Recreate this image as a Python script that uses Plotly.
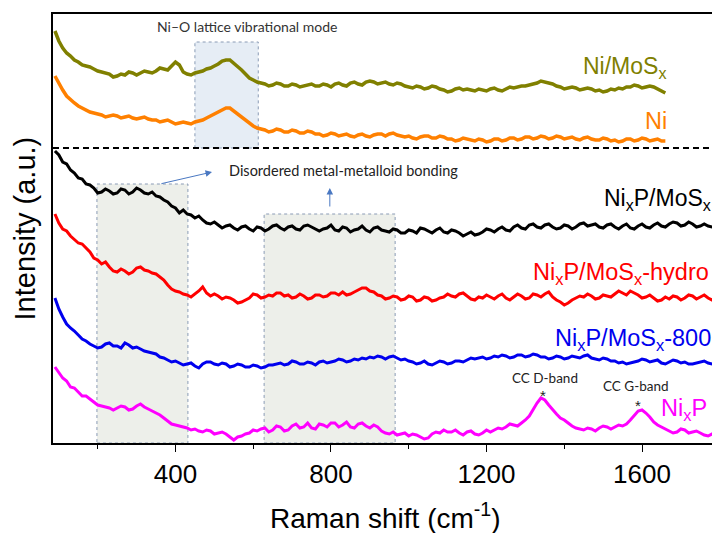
import plotly.graph_objects as go

# ---------------- data ----------------
shift_fine = list(range(90, 1791, 10))             # 90 ... 1790 cm-1 (lower four spectra)
shift_top = list(range(90, 1661, 10))              # top two spectra end ~1660

ni_mos = [412, 402, 395, 390, 387, 383, 381, 378, 377, 376,
          374, 372, 371, 370, 369, 366, 367, 369, 368, 371,
          370, 368, 370, 372, 371, 370, 372, 375, 374, 373,
          377, 381, 378, 371, 369, 368, 370, 371, 372, 374,
          375, 377, 379, 382, 383, 383, 380, 377, 373, 369,
          365, 363, 361, 360, 359, 357, 358, 360, 359, 357,
          357, 359, 358, 356, 357, 358, 359, 357, 357, 359,
          358, 356, 359, 360, 358, 357, 360, 361, 359, 358,
          361, 362, 361, 359, 360, 361, 359, 358, 360, 359,
          357, 356, 355, 357, 356, 354, 355, 357, 356, 354,
          353, 351, 352, 354, 355, 353, 354, 353, 352, 354,
          353, 352, 354, 355, 353, 352, 354, 356, 355, 356,
          357, 357, 358, 359, 360, 362, 361, 360, 359, 357,
          356, 354, 355, 356, 355, 353, 354, 355, 354, 352,
          353, 351, 352, 354, 353, 355, 354, 356, 356, 358,
          357, 355, 356, 357, 356, 354, 352, 350]

ni = [367, 359, 353, 347, 343, 340, 337, 335, 333, 331,
      330, 329, 328, 326, 327, 328, 327, 325, 326, 327,
      325, 324, 325, 326, 324, 323, 323, 321, 322, 323,
      321, 319, 320, 321, 320, 319, 321, 322, 323, 325,
      327, 329, 331, 333, 335, 335, 332, 329, 326, 322,
      319, 317, 315, 314, 313, 311, 312, 314, 313, 311,
      311, 313, 312, 310, 310, 312, 311, 309, 309, 307,
      308, 310, 309, 307, 308, 309, 307, 306, 308, 309,
      307, 306, 308, 309, 309, 307, 309, 310, 308, 307,
      306, 307, 305, 304, 306, 307, 307, 305, 305, 307,
      306, 304, 304, 302, 303, 305, 304, 303, 302, 304,
      303, 301, 302, 304, 304, 302, 303, 305, 305, 303,
      304, 306, 306, 304, 305, 307, 306, 304, 305, 307,
      306, 304, 305, 306, 304, 303, 305, 306, 304, 303,
      303, 305, 304, 302, 303, 301, 302, 304, 304, 302,
      303, 305, 304, 302, 303, 304, 302, 302]

nip_mos = [292, 288, 281, 279, 273, 270, 265, 264, 259, 258,
           255, 250, 251, 254, 252, 249, 250, 254, 253, 249,
           251, 255, 253, 250, 249, 251, 247, 246, 243, 241,
           237, 235, 230, 233, 229, 228, 225, 227, 223, 220,
           219, 221, 218, 215, 217, 218, 215, 213, 216, 217,
           214, 212, 216, 215, 212, 214, 217, 218, 215, 213,
           216, 217, 214, 213, 217, 218, 216, 214, 212, 214,
           215, 218, 213, 212, 216, 215, 211, 213, 214, 217,
           213, 211, 215, 216, 213, 212, 211, 214, 213, 210,
           210, 213, 212, 210, 215, 214, 212, 210, 213, 215,
           211, 210, 213, 212, 210, 207, 209, 211, 208, 209,
           211, 214, 213, 211, 214, 216, 213, 212, 216, 218,
           215, 214, 218, 219, 216, 215, 218, 219, 216, 214,
           215, 218, 217, 214, 216, 219, 220, 217, 218, 219,
           216, 215, 218, 219, 216, 214, 217, 219, 215, 214,
           217, 219, 216, 215, 218, 220, 217, 216, 219, 221,
           220, 217, 218, 221, 219, 216, 217, 219, 217, 216,
           218]

nip_mos_hydro = [229, 220, 214, 212, 207, 203, 200, 199, 195, 191,
                 185, 183, 179, 181, 176, 172, 171, 174, 172, 169,
                 171, 175, 176, 173, 172, 170, 169, 166, 163, 158,
                 154, 152, 151, 149, 148, 146, 149, 152, 156, 150,
                 147, 149, 147, 144, 146, 145, 143, 140, 141, 143,
                 145, 149, 148, 145, 146, 148, 147, 150, 150, 147,
                 148, 145, 146, 149, 147, 144, 145, 148, 148, 146,
                 147, 150, 150, 148, 151, 148, 149, 151, 153, 155,
                 155, 152, 151, 148, 147, 144, 145, 147, 146, 143,
                 144, 147, 146, 142, 143, 146, 145, 142, 143, 145,
                 146, 149, 147, 146, 149, 150, 147, 144, 143, 146,
                 145, 148, 146, 144, 147, 149, 145, 143, 146, 149,
                 147, 144, 145, 149, 148, 146, 149, 151, 146, 143,
                 141, 138, 140, 143, 145, 147, 146, 149, 147, 144,
                 145, 148, 147, 146, 149, 152, 150, 148, 152, 150,
                 148, 145, 146, 148, 145, 142, 143, 146, 144, 147,
                 146, 143, 145, 148, 147, 144, 146, 148, 145, 143,
                 146]

nip_mos_800 = [145, 134, 126, 119, 115, 112, 108, 104, 102, 99,
               97, 95, 96, 99, 100, 97, 97, 95, 100, 98,
               95, 96, 94, 92, 91, 90, 89, 86, 85, 83,
               81, 82, 80, 78, 79, 80, 77, 75, 79, 81,
               81, 79, 78, 80, 79, 76, 77, 79, 78, 76,
               76, 78, 77, 75, 76, 78, 78, 79, 80, 78,
               79, 82, 81, 79, 79, 81, 80, 78, 81, 82,
               80, 81, 82, 84, 83, 81, 82, 84, 83, 85,
               84, 86, 85, 87, 86, 84, 86, 87, 85, 83,
               84, 82, 81, 79, 80, 82, 79, 78, 80, 82,
               81, 79, 80, 82, 82, 81, 83, 85, 84, 85,
               86, 84, 85, 87, 86, 88, 87, 85, 86, 88,
               88, 86, 87, 89, 88, 86, 86, 84, 85, 87,
               86, 84, 85, 87, 86, 85, 87, 88, 85, 84,
               83, 85, 84, 82, 82, 80, 81, 79, 80, 81,
               82, 84, 83, 81, 82, 83, 80, 79, 81, 83,
               82, 80, 81, 79, 79, 80, 81, 82, 80, 79,
               81]

nip = [76, 70, 65, 62, 56, 55, 51, 47, 47, 44,
       41, 38, 37, 36, 35, 33, 35, 37, 36, 33,
       34, 37, 39, 36, 34, 32, 30, 28, 25, 22,
       19, 18, 17, 16, 15, 13, 14, 12, 11, 13,
       12, 9, 10, 11, 9, 6, 3, 6, 7, 9,
       10, 13, 12, 14, 15, 11, 13, 17, 16, 12,
       13, 17, 19, 15, 16, 20, 15, 14, 19, 18,
       16, 20, 20, 16, 18, 21, 16, 15, 19, 20,
       17, 15, 18, 16, 12, 10, 9, 11, 8, 9,
       10, 7, 9, 8, 6, 4, 5, 9, 11, 10,
       13, 11, 11, 13, 10, 8, 11, 12, 9, 8,
       10, 13, 11, 13, 15, 14, 16, 19, 18, 17,
       20, 23, 27, 34, 40, 45, 43, 38, 33, 29,
       25, 23, 20, 17, 15, 14, 13, 15, 14, 12,
       15, 17, 16, 14, 16, 18, 17, 19, 23, 27,
       32, 33, 30, 26, 21, 18, 16, 14, 12, 10,
       11, 14, 13, 10, 11, 12, 10, 8, 7, 9,
       7]

x_ticks = [400, 800, 1200, 1600]

# ---------------- figure ----------------
ARIAL = "Liberation Sans, Arial, sans-serif"
CALIBRI = "Lato, Noto Sans, sans-serif"

fig = go.Figure()

series = [
    (shift_top, ni_mos, "#808000", 3.5),
    (shift_top, ni, "#ff8000", 3.5),
    (shift_fine, nip_mos, "#000000", 3),
    (shift_fine, nip_mos_hydro, "#ff0000", 3),
    (shift_fine, nip_mos_800, "#0000ee", 3),
    (shift_fine, nip, "#ff00ff", 3),
]
for xs, ys, col, w in series:
    fig.add_trace(go.Scatter(x=xs, y=ys, mode="lines",
                             line=dict(color=col, width=w),
                             showlegend=False, hoverinfo="skip"))

# shaded regions
box_line = dict(color="#8a9bb5", width=1, dash="dot")
fig.add_shape(type="rect", xref="x", yref="y", x0=450, x1=613, y0=295, y1=401,
              fillcolor="#e6edf5", line=box_line, layer="below")
fig.add_shape(type="rect", xref="x", yref="y", x0=198, x1=432, y0=0, y1=259,
              fillcolor="#edefea", line=box_line, layer="below")
fig.add_shape(type="rect", xref="x", yref="y", x0=628, x1=965, y0=0, y1=229,
              fillcolor="#edefea", line=box_line, layer="below")
# dashed separator
fig.add_shape(type="line", xref="paper", yref="y", x0=0, x1=1, y0=295, y1=295,
              line=dict(color="#000000", width=1.8, dash="6px,4px"))

# text annotations
fig.add_annotation(x=585, y=417, xref="x", yref="y", text="Ni–O lattice vibrational mode",
                   showarrow=False, font=dict(family=CALIBRI, size=14, color="#333333"))
fig.add_annotation(x=533, y=273, xref="x", yref="y", xanchor="left",
                   text="Disordered metal-metalloid bonding",
                   showarrow=False, font=dict(family=CALIBRI, size=14.5, color="#222222"))
# arrows
fig.add_annotation(x=494, y=271, ax=360, ay=259, xref="x", yref="y", axref="x", ayref="y",
                   text="", showarrow=True, arrowhead=2, arrowsize=1.3, arrowwidth=1,
                   arrowcolor="#4a78c2")
fig.add_annotation(x=797, y=255, ax=797, ay=235, xref="x", yref="y", axref="x", ayref="y",
                   text="", showarrow=True, arrowhead=2, arrowsize=1.3, arrowwidth=1,
                   arrowcolor="#4a78c2")
fig.add_annotation(x=1350, y=65, xref="x", yref="y", text="CC D-band", showarrow=False,
                   font=dict(family=CALIBRI, size=13.5, color="#222222"))
fig.add_annotation(x=1345, y=48, xref="x", yref="y", text="*", showarrow=False,
                   font=dict(family=ARIAL, size=15, color="#222222"))
fig.add_annotation(x=1584, y=57, xref="x", yref="y", text="CC G-band", showarrow=False,
                   font=dict(family=CALIBRI, size=13.5, color="#222222"))
fig.add_annotation(x=1590, y=38, xref="x", yref="y", text="*", showarrow=False,
                   font=dict(family=ARIAL, size=15, color="#222222"))

# series labels (the reference crops the longer ones at the right edge)
labels = [
    (1444, 376, "Ni/MoS<sub>x</sub>", "#808000", 23),
    (1603, 322, "Ni", "#ff8000", 23.5),
    (1497, 244, "Ni<sub>x</sub>P/MoS<sub>x</sub>", "#000000", 23),
    (1315, 170, "Ni<sub>x</sub>P/MoS<sub>x</sub>-hydro", "#ff0000", 23.5),
    (1371, 104, "Ni<sub>x</sub>P/MoS<sub>x</sub>-800", "#0000ee", 23.5),
    (1644, 34, "Ni<sub>x</sub>P", "#ff00ff", 23.5),
]
for lx, ly, txt, col, fs in labels:
    fig.add_annotation(x=lx, y=ly, xref="x", yref="y", xanchor="left", yanchor="middle",
                       text=txt, showarrow=False,
                       font=dict(family=ARIAL, size=fs, color=col))

# axis titles placed as annotations (exact positions)
fig.add_annotation(x=0.505, y=-0.170, xref="paper", yref="paper",
                   text="Raman shift (cm<sup>-1</sup>)", showarrow=False,
                   xanchor="center", yanchor="middle",
                   font=dict(family=ARIAL, size=28, color="#000000"))
fig.add_annotation(x=-0.0425, y=0.5, xref="paper", yref="paper",
                   text="Intensity (a.u.)", showarrow=False, textangle=-90,
                   xanchor="center", yanchor="middle",
                   font=dict(family=ARIAL, size=29, color="#000000"))

fig.update_layout(
    width=712, height=533,
    margin=dict(l=53, r=0, t=14, b=90),
    paper_bgcolor="white", plot_bgcolor="white",
    showlegend=False,
)
fig.update_xaxes(
    range=[85, 1780], tickvals=x_ticks, ticktext=[str(v) for v in x_ticks],
    ticks="outside", ticklen=7, tickwidth=1.3, tickcolor="#000000",
    minor=dict(ticks="outside", ticklen=4, tickwidth=1.3, tickcolor="#000000",
               tick0=0, dtick=200),
    showline=True, linecolor="#000000", linewidth=1.5, mirror=True,
    showgrid=False, zeroline=False, automargin=False,
    tickfont=dict(family=ARIAL, size=26, color="#000000"),
)
fig.update_yaxes(
    range=[0, 429], showticklabels=False, ticks="",
    showline=True, linecolor="#000000", linewidth=1.5, mirror=False,
    showgrid=False, zeroline=False, automargin=False,
)

fig.write_html("out.html", config={"displayModeBar": False},
               post_script="document.body.style.margin='0';document.body.style.padding='0';")
